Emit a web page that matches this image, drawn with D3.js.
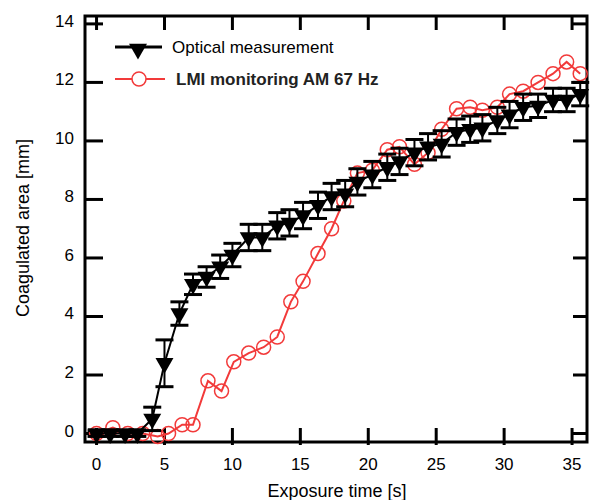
<!DOCTYPE html>
<html lang="en">
<head>
    <meta charset="UTF-8">
    <title>Coagulated area vs exposure time</title>
    <style>
        body { margin: 0; background: #fff; }
        svg text { font-family: "Liberation Sans", Arial, sans-serif; }
    </style>
</head>
<body>
<div id="chart"></div>

<script src="https://d3js.org/d3.v7.min.js"></script>
<script>
// optical measurement (black triangles with error bars)
const opticalTime = [0, 1.0, 2.1, 3.0, 4.1, 5.0, 6.1, 7.1, 8.1, 9.1, 10.0, 11.2, 12.2, 13.3, 14.2, 15.2, 16.3, 17.3,
    18.3, 19.2, 20.3, 21.4, 22.3, 23.4, 24.4, 25.4, 26.5, 27.5, 28.4, 29.5, 30.4, 31.4, 32.5, 33.6, 34.6, 35.6];
const opticalArea = [0, 0, 0, 0, 0.5, 2.4, 4.1, 5.1, 5.35, 5.7, 6.1, 6.7, 6.7, 7.1, 7.2, 7.45, 7.8, 8.1,
    8.2, 8.6, 8.85, 9.1, 9.3, 9.6, 9.8, 9.9, 10.3, 10.4, 10.45, 10.7, 10.9, 11.15, 11.2, 11.4, 11.4, 11.6];
const opticalErr = [0.1, 0.1, 0.1, 0.1, 0.4, 0.8, 0.4, 0.35, 0.35, 0.4, 0.4, 0.45, 0.45, 0.45, 0.45, 0.45, 0.45, 0.45,
    0.45, 0.45, 0.45, 0.45, 0.45, 0.45, 0.45, 0.45, 0.45, 0.45, 0.45, 0.45, 0.45, 0.45, 0.4, 0.4, 0.4, 0.4];

// LMI monitoring (red open circles)
const lmiTime = [0, 1.2, 2.3, 3.4, 4.5, 5.3, 6.3, 7.1, 8.2, 9.2, 10.1, 11.2, 12.3, 13.3, 14.3, 15.2, 16.3, 17.3,
    18.2, 19.2, 20.3, 21.4, 22.3, 23.4, 24.4, 25.4, 26.5, 27.5, 28.4, 29.5, 30.4, 31.4, 32.5, 33.6, 34.6, 35.6];
const lmiArea = [0, 0.2, 0, 0, -0.1, 0, 0.3, 0.3, 1.8, 1.45, 2.45, 2.75, 2.95, 3.3, 4.5, 5.2, 6.15, 7.0,
    7.95, 8.9, 9.0, 9.7, 9.8, 9.2, 9.6, 10.4, 11.1, 11.15, 11.05, 11.15, 11.6, 11.7, 12.0, 12.3, 12.7, 12.3];

const xTicks = [0, 5, 10, 15, 20, 25, 30, 35];
const yTicks = [0, 2, 4, 6, 8, 10, 12, 14];
const legendLabels = ["Optical measurement", "LMI monitoring AM 67 Hz"];

const width = 590, height = 500;
const margin = { top: 16, right: 3, bottom: 58, left: 85 };

const svg = d3.select("#chart").append("svg")
    .attr("width", width)
    .attr("height", height);

const x = d3.scaleLinear().domain([-0.85, 36.1]).range([margin.left, width - margin.right]);
const y = d3.scaleLinear().domain([-0.29, 14.27]).range([height - margin.bottom, margin.top]);

const x0 = x.range()[0], x1 = x.range()[1], y0 = y.range()[0], y1 = y.range()[1];

// ticks on all four sides, pointing inward
const tickG = svg.append("g").attr("stroke", "#000").attr("stroke-width", 3);
xTicks.forEach(t => {
    tickG.append("line").attr("x1", x(t)).attr("x2", x(t)).attr("y1", y0 + 3).attr("y2", y0 - 14);
    tickG.append("line").attr("x1", x(t)).attr("x2", x(t)).attr("y1", y1).attr("y2", y1 + 14);
});
yTicks.forEach(t => {
    tickG.append("line").attr("x1", x0).attr("x2", x0 + 18).attr("y1", y(t)).attr("y2", y(t));
    tickG.append("line").attr("x1", x1).attr("x2", x1 - 14).attr("y1", y(t)).attr("y2", y(t));
});

svg.append("rect")
    .attr("x", x0).attr("y", y1)
    .attr("width", x1 - x0).attr("height", y0 - y1)
    .attr("fill", "none").attr("stroke", "#000").attr("stroke-width", 3);

// tick labels
svg.append("g").selectAll("text").data(xTicks).join("text")
    .attr("x", d => x(d)).attr("y", y0 + 28)
    .attr("text-anchor", "middle").attr("font-size", 17)
    .text(d => d);

svg.append("g").selectAll("text").data(yTicks).join("text")
    .attr("x", 74).attr("y", d => y(d) + 3)
    .attr("text-anchor", "end").attr("font-size", 17)
    .text(d => d);

svg.append("text")
    .attr("x", 337).attr("y", 497)
    .attr("text-anchor", "middle").attr("font-size", 18)
    .text("Exposure time [s]");

svg.append("text")
    .attr("transform", "translate(29,228) rotate(-90)")
    .attr("text-anchor", "middle").attr("font-size", 18)
    .text("Coagulated area [mm]");

const red = "#f23a3a";

// LMI series
const lmi = lmiTime.map((t, i) => ({ t: t, v: lmiArea[i] }));
const line = d3.line().x(d => x(d.t)).y(d => y(d.v));

svg.append("path").datum(lmi)
    .attr("d", line)
    .attr("fill", "none").attr("stroke", red).attr("stroke-width", 2);

svg.append("g").selectAll("circle").data(lmi).join("circle")
    .attr("cx", d => x(d.t)).attr("cy", d => y(d.v)).attr("r", 7)
    .attr("fill", "none").attr("stroke", red).attr("stroke-width", 1.5);

// optical series
const optical = opticalTime.map((t, i) => ({ t: t, v: opticalArea[i], e: opticalErr[i] }));

svg.append("path").datum(optical)
    .attr("d", line)
    .attr("fill", "none").attr("stroke", "#000").attr("stroke-width", 2);

const err = svg.append("g").attr("stroke", "#000");
optical.forEach(d => {
    err.append("line").attr("stroke-width", 2)
        .attr("x1", x(d.t)).attr("x2", x(d.t))
        .attr("y1", y(d.v - d.e)).attr("y2", y(d.v + d.e));
    [d.v - d.e, d.v + d.e].forEach(v => {
        err.append("line").attr("stroke-width", 3)
            .attr("x1", x(d.t) - 9).attr("x2", x(d.t) + 9)
            .attr("y1", y(v)).attr("y2", y(v));
    });
});

const tri = d3.symbol().type(d3.symbolTriangle).size(140);
svg.append("g").selectAll("path").data(optical).join("path")
    .attr("d", tri)
    .attr("transform", d => `translate(${x(d.t)},${y(d.v)}) rotate(180)`)
    .attr("fill", "#000");

// legend
const lg = svg.append("g");
lg.append("line").attr("x1", 115).attr("x2", 162).attr("y1", 47).attr("y2", 47)
    .attr("stroke", "#000").attr("stroke-width", 3);
lg.append("path").attr("d", tri).attr("transform", "translate(138,49) rotate(180)").attr("fill", "#000");
lg.append("text").attr("x", 172).attr("y", 53).attr("font-size", 17).text(legendLabels[0]);

lg.append("line").attr("x1", 115).attr("x2", 165).attr("y1", 79).attr("y2", 79)
    .attr("stroke", red).attr("stroke-width", 2);
lg.append("circle").attr("cx", 139).attr("cy", 79).attr("r", 7)
    .attr("fill", "#fff").attr("stroke", red).attr("stroke-width", 1.5);
lg.append("text").attr("x", 176).attr("y", 85).attr("font-size", 17).attr("font-weight", "bold")
    .attr("fill", "#222").text(legendLabels[1]);
</script>
</body>
</html>
